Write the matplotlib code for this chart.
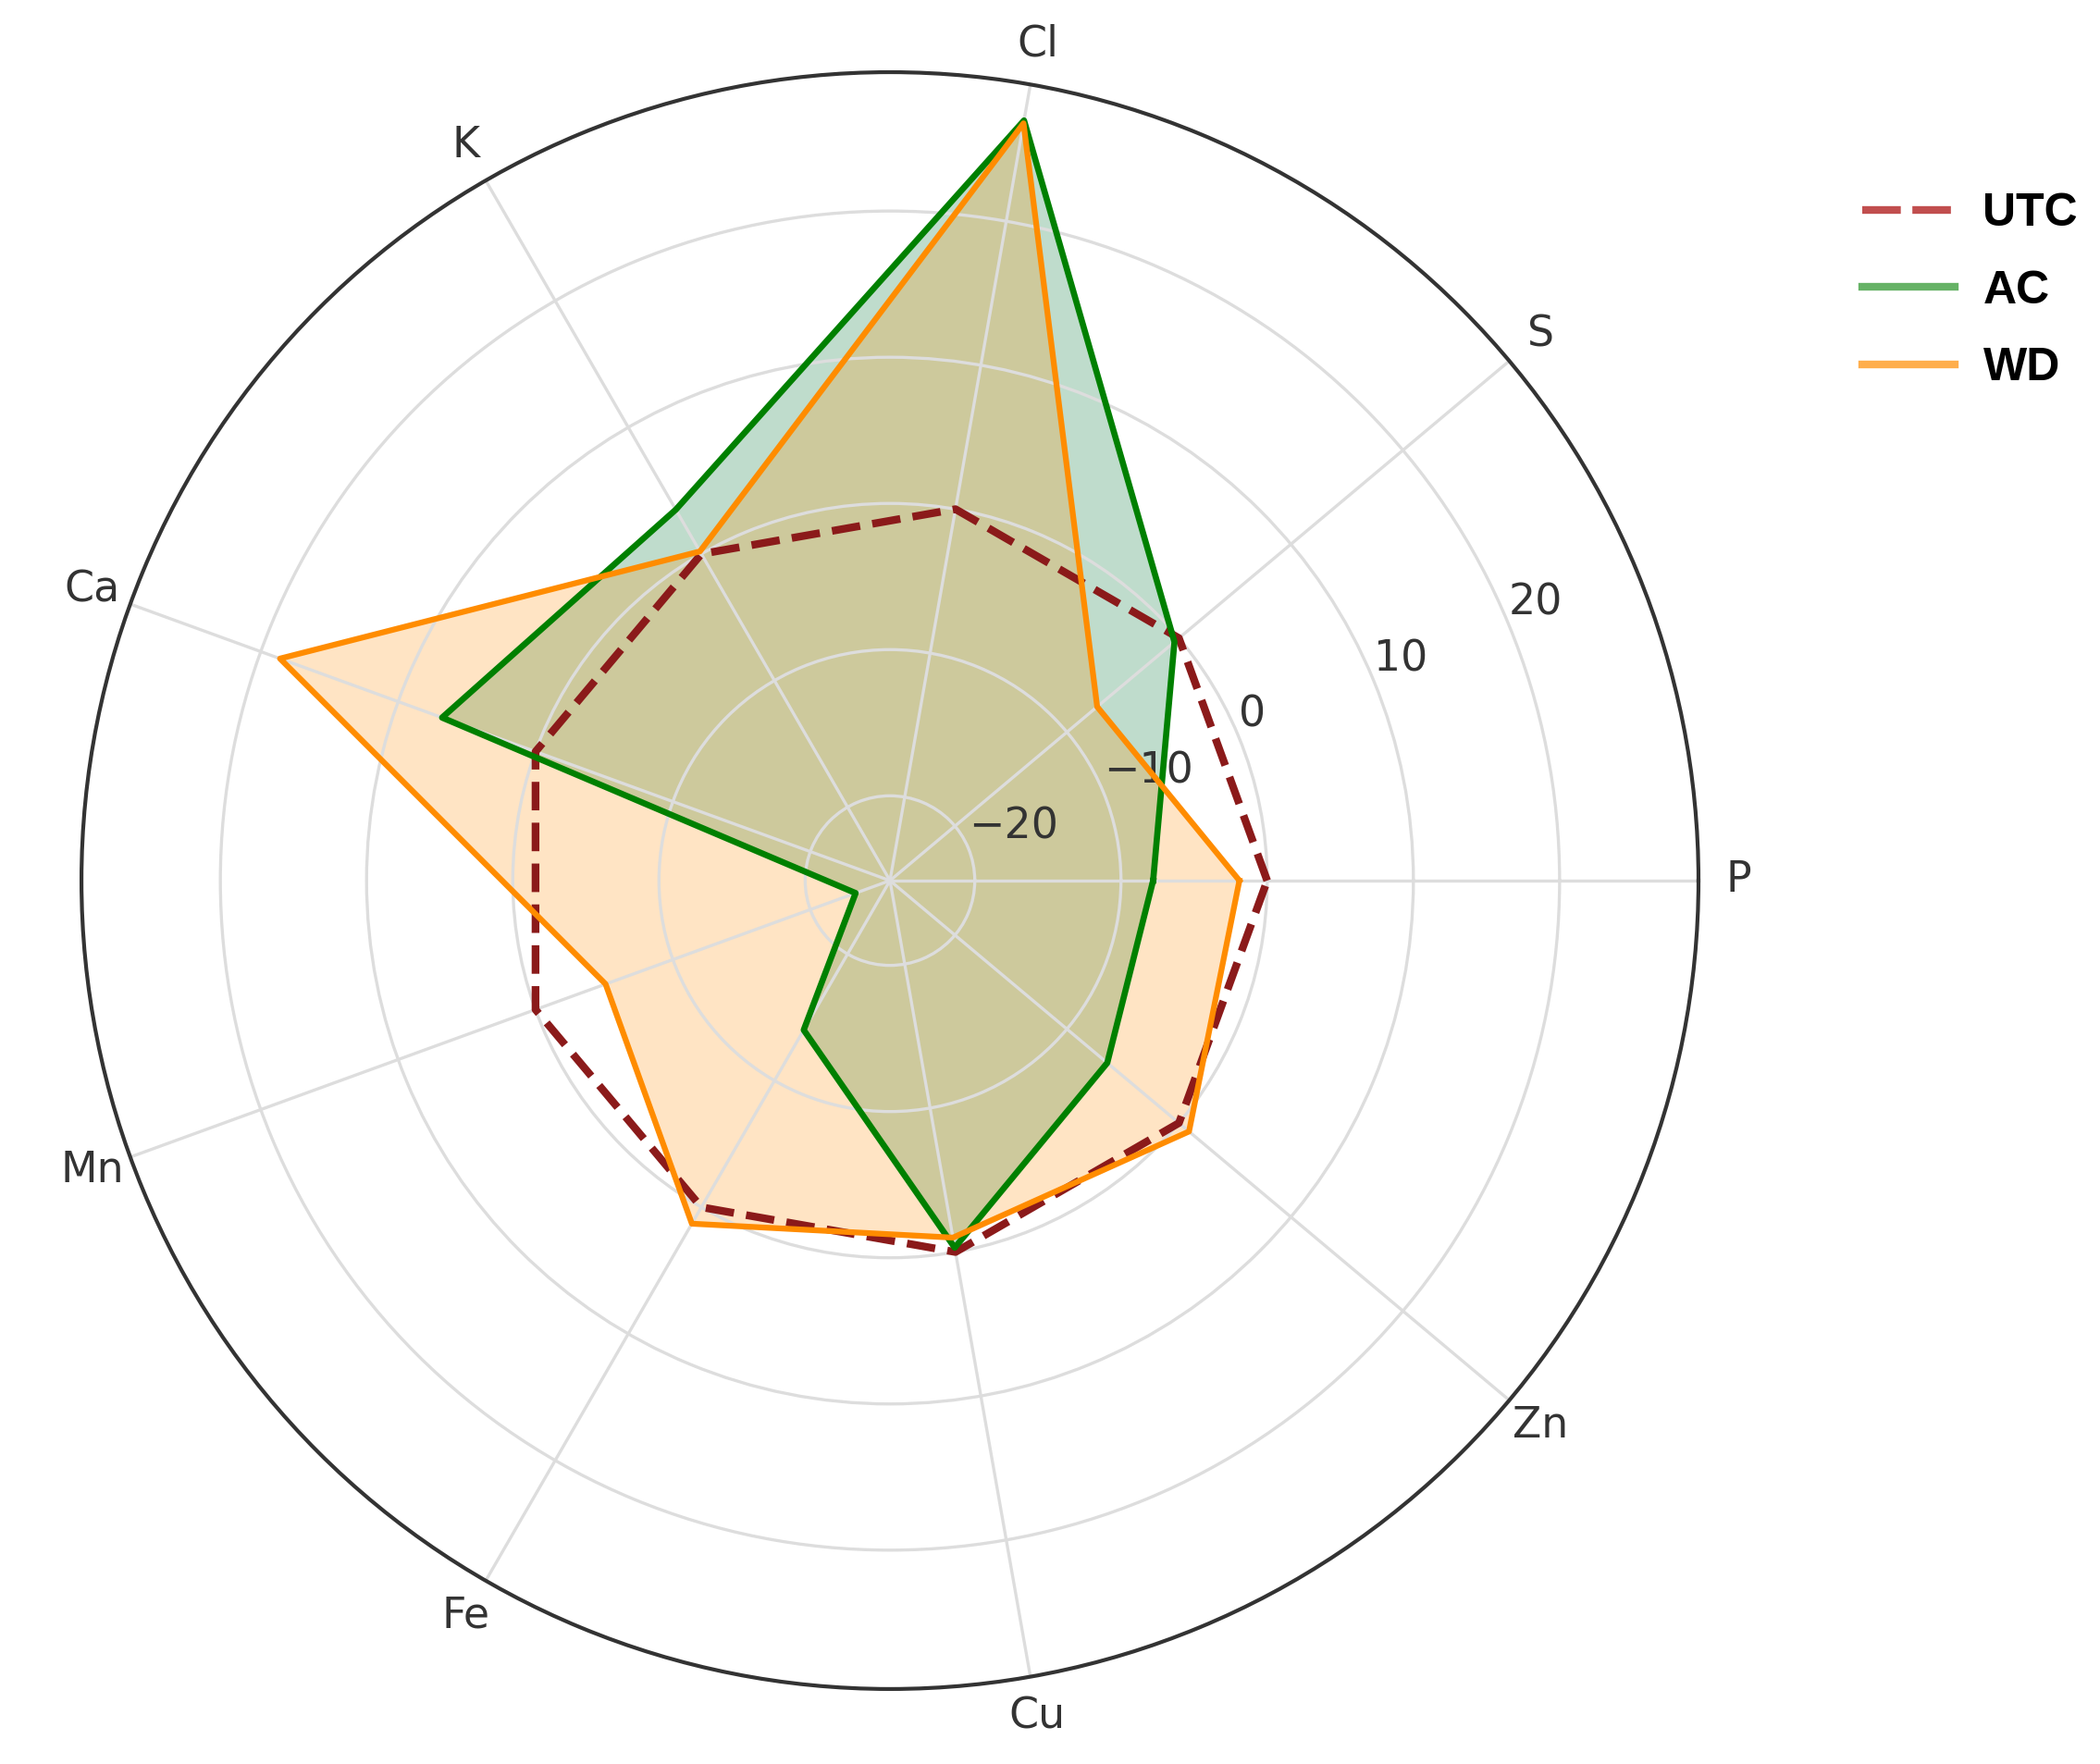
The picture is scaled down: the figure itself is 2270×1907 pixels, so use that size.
import numpy as np
import matplotlib

matplotlib.use("Agg")
import matplotlib.pyplot as plt
from matplotlib.lines import Line2D

# elements on the radar, counter-clockwise starting at 0 deg
elements = ["P", "S", "Cl", "K", "Ca", "Mn", "Fe", "Cu", "Zn"]
utc_values = [0, 0, 0, 0, 0, 0, 0, 0, 0]
ac_values = [-7.8, -0.4, 27.0, 3.5, 6.8, -23.3, -14.0, -0.3, -6.4]
wd_values = [-1.9, -7.3, 26.8, 0.2, 18.6, -5.1, 1.3, -1.0, 0.9]
series_names = ["UTC", "AC", "WD"]
r_ticks = [-20, -10, 0, 10, 20]


def close(values):
    return np.concatenate((values, [values[0]]))


def plot_radar(storage_path: str):
    fig = plt.figure(figsize=(2270 / 300, 1907 / 300), dpi=300)
    ax = fig.add_axes([0.0388, 0.0425, 0.770, 0.9166], projection="polar")

    angles = np.linspace(0, 2 * np.pi, len(elements), endpoint=False)
    closed_angles = close(angles)

    # fills first, lines on top
    ax.fill(closed_angles, close(ac_values), color="seagreen", alpha=0.3, lw=0)
    ax.fill(closed_angles, close(wd_values), color="darkorange", alpha=0.23, lw=0)

    ax.plot(closed_angles, close(utc_values), color="#8b1a1a", linestyle="--", linewidth=2)
    ax.plot(closed_angles, close(ac_values), color="green", linewidth=1.6)
    ax.plot(closed_angles, close(wd_values), color="darkorange", linewidth=1.5)

    ax.set_ylim(-25.8, 29.5)
    ax.set_yticks(r_ticks)
    ax.set_rlabel_position(22.5)
    ax.set_xticks(angles)
    ax.set_xticklabels(elements)
    ax.tick_params(axis="x", pad=0, labelsize=11, labelcolor="#333333")
    ax.tick_params(axis="y", labelsize=11, labelcolor="#333333")
    ax.grid(color="#dddddd", linewidth=0.8)
    ax.spines["polar"].set_color("#333333")
    ax.spines["polar"].set_linewidth(1.0)

    handles = [
        Line2D([], [], color="#b22222", dashes=(5, 1.5), linewidth=2, alpha=0.8),
        Line2D([], [], color="green", linewidth=2, alpha=0.6),
        Line2D([], [], color="darkorange", linewidth=2, alpha=0.7),
    ]
    fig.legend(
        handles,
        series_names,
        loc="center left",
        bbox_to_anchor=(0.887, 0.835),
        frameon=False,
        borderpad=0,
        borderaxespad=0,
        handlelength=2.0,
        handletextpad=0.6,
        labelspacing=0.75,
        prop={"family": "Liberation Sans", "weight": "bold", "size": 12},
    )

    fig.savefig(storage_path, dpi=300, facecolor="white")


if __name__ == "__main__":
    plot_radar("out.png")
